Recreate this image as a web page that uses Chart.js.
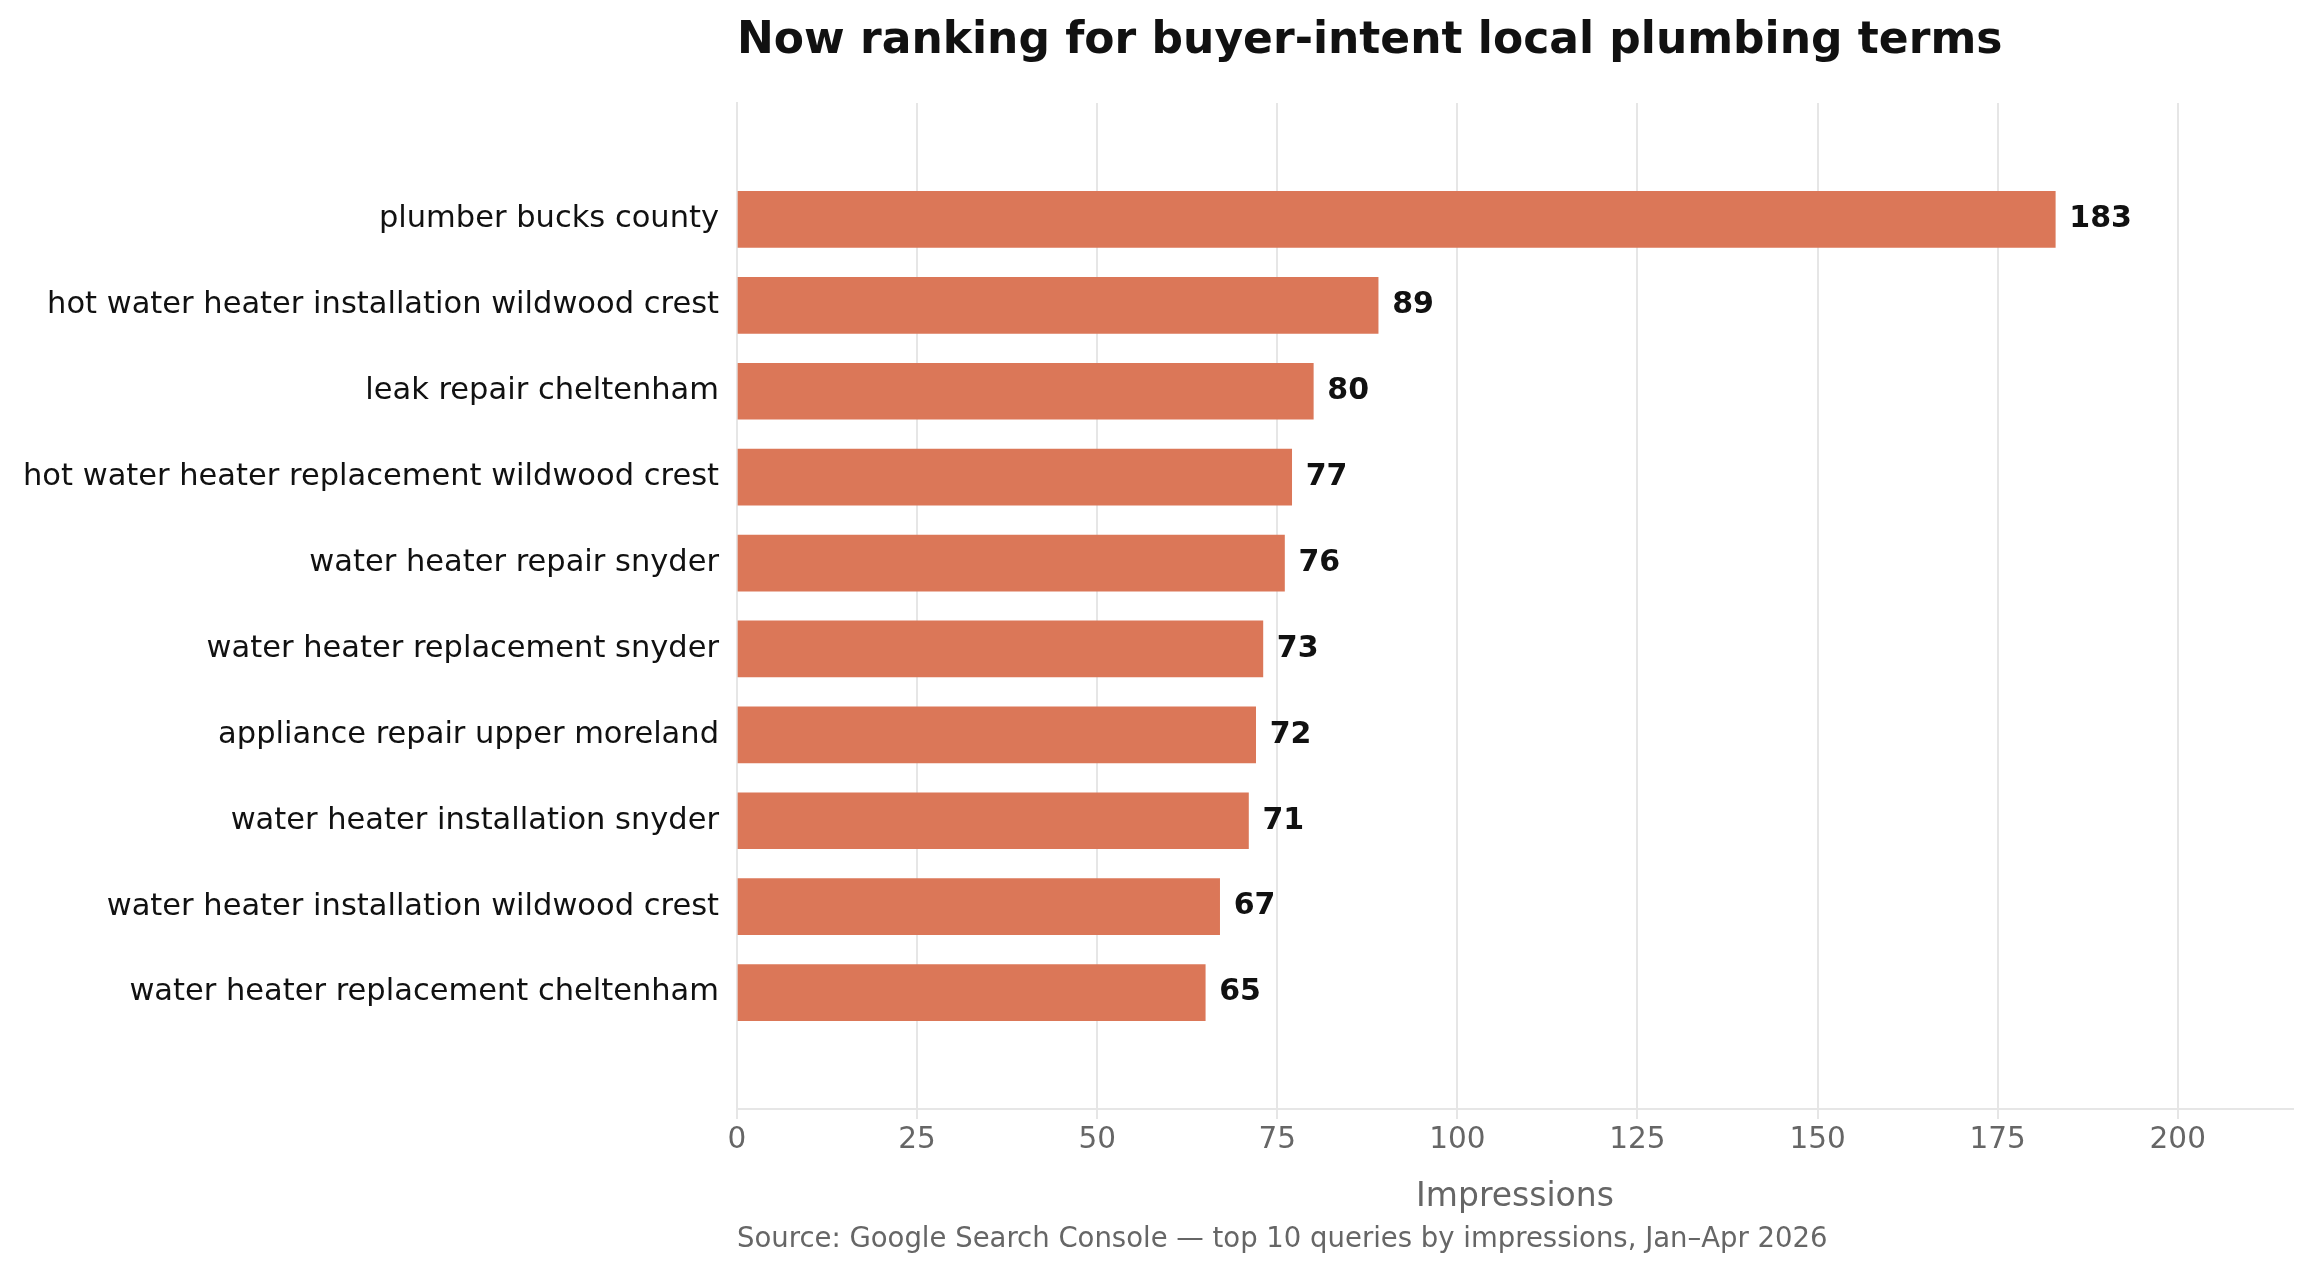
<!DOCTYPE html>
<html><head><meta charset="utf-8">
<script src="https://cdn.jsdelivr.net/npm/chart.js@4"></script>
<style>html,body{margin:0;padding:0;background:#fff}#wrap{width:2305px;height:1271px;position:relative}</style>
</head><body><div id="wrap"><canvas id="c"></canvas></div>
<script>
const categories = ["plumber bucks county","hot water heater installation wildwood crest","leak repair cheltenham","hot water heater replacement wildwood crest","water heater repair snyder","water heater replacement snyder","appliance repair upper moreland","water heater installation snyder","water heater installation wildwood crest","water heater replacement cheltenham"];
const impressions = [183,89,80,77,76,73,72,71,67,65];
const xTicks = [0,25,50,75,100,125,150,175,200];
const titleText = "Now ranking for buyer-intent local plumbing terms";
const sourceText = "Source: Google Search Console \u2014 top 10 queries by impressions, Jan\u2013Apr 2026";
const F = "'DejaVu Sans', sans-serif";

const extras = {
  id:'extras',
  afterDatasetsDraw(chart){
    const ctx = chart.ctx, a = chart.chartArea;
    ctx.save();
    const meta = chart.getDatasetMeta(0);
    ctx.font = "bold 30px "+F; ctx.fillStyle="#111"; ctx.textBaseline="middle"; ctx.textAlign="left";
    meta.data.forEach((b,i)=>ctx.fillText(String(impressions[i]), b.x+14, b.y));
    ctx.font = "bold 44px "+F;
    ctx.fillText(titleText, a.left, 42);
    ctx.font = "27.5px "+F; ctx.fillStyle="#666";
    ctx.fillText(sourceText, a.left, 1240);
    ctx.restore();
  }
};

new Chart(document.getElementById('c'), {
  type:'bar',
  data:{datasets:[{data:impressions.map((v,i)=>({x:v,y:i})), backgroundColor:'#db7758', barThickness:56}]},
  options:{
    indexAxis:'y', responsive:true, maintainAspectRatio:false, animation:false,
    layout:{padding:{top:103,bottom:50,right:12,left:0}},
    plugins:{legend:{display:false}, tooltip:{enabled:false}},
    scales:{
      x:{type:'linear',min:0,max:216, afterFit(s){s.height=112;},
         afterBuildTicks(s){s.ticks=xTicks.map(v=>({value:v}));},
         grid:{color:'#e6e6e6',lineWidth:2,drawTicks:true,tickLength:10},
         border:{color:'#e6e6e6',width:2},
         ticks:{color:'#666',font:{family:F,size:29.5},padding:4},
         title:{display:true,text:'Impressions',color:'#666',font:{family:F,size:33},padding:{top:0}}},
      y:{type:'linear',reverse:true,min:-0.77,max:9.77, afterFit(s){s.width=737;},
         afterBuildTicks(s){s.ticks=categories.map((c,i)=>({value:i}));},
         grid:{display:false,drawTicks:true,tickLength:10},
         border:{color:'#e6e6e6',width:2},
         ticks:{color:'#111',font:{family:F,size:30.5},padding:8,callback:(v)=>categories[v]}}
    }
  },
  plugins:[extras]
});
</script></body></html>
